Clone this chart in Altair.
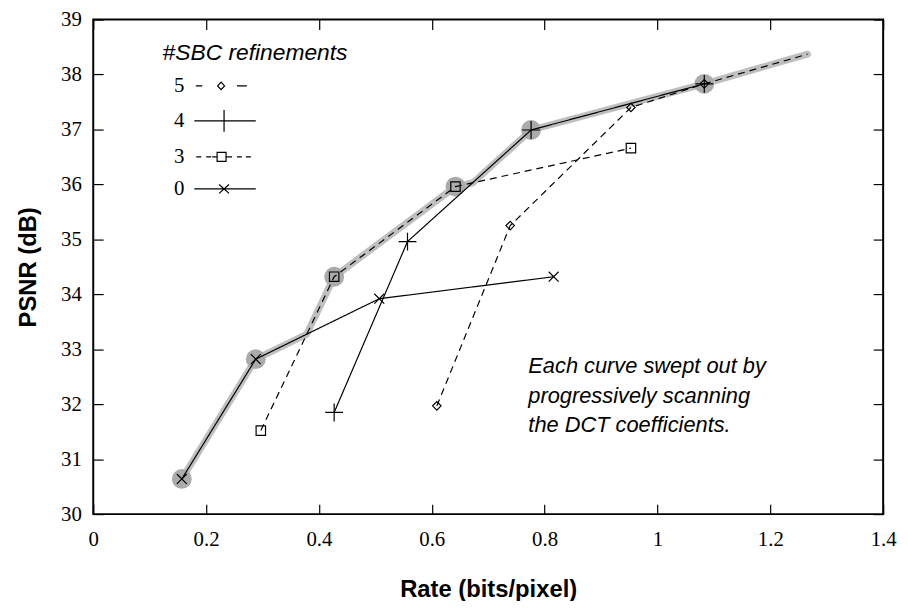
import altair as alt
import pandas as pd

# ---------------- data ----------------
series_order = ["5", "4", "3", "0"]

s5_x = [0.609, 0.739, 0.953, 1.083, 1.266]
s5_y = [31.97, 35.25, 37.40, 37.83, 38.37]
s5_marked = [True, True, True, True, False]

s4_x = [0.427, 0.557, 0.776, 1.083]
s4_y = [31.85, 34.96, 36.99, 37.83]
s4_marked = [True, True, True, True]

s3_x = [0.297, 0.427, 0.642, 0.953]
s3_y = [31.52, 34.32, 35.96, 36.66]
s3_marked = [True, True, True, True]

s0_x = [0.157, 0.288, 0.507, 0.816]
s0_y = [30.64, 32.82, 33.92, 34.32]
s0_marked = [True, True, True, True]

# upper envelope (gray highlight) and its highlighted points
env_x = [0.157, 0.288, 0.378, 0.427, 0.642, 0.673, 0.776, 1.083, 1.266]
env_y = [30.64, 32.82, 33.27, 34.32, 35.96, 36.03, 36.99, 37.83, 38.37]
env_dot = [True, True, False, True, True, False, True, True, False]

x_ticks = [0, 0.2, 0.4, 0.6, 0.8, 1.0, 1.2, 1.4]
y_ticks = [30, 31, 32, 33, 34, 35, 36, 37, 38, 39]

legend_title = "#SBC refinements"
note_text = "Each curve swept out by\nprogressively scanning\nthe DCT coefficients."
x_title = "Rate (bits/pixel)"
y_title = "PSNR (dB)"

# ---------------- tables ----------------
rows = []
for name, xs, ys, ms in [("5", s5_x, s5_y, s5_marked), ("4", s4_x, s4_y, s4_marked),
                         ("3", s3_x, s3_y, s3_marked), ("0", s0_x, s0_y, s0_marked)]:
    for i, (a, b, m) in enumerate(zip(xs, ys, ms)):
        rows.append({"series": name, "rate": a, "psnr": b, "order": i, "marked": m})
df = pd.DataFrame(rows)
env_df = pd.DataFrame({"rate": env_x, "psnr": env_y, "order": list(range(len(env_x))), "dot": env_dot})

# ---------------- styles ----------------
marker_paths = [
    "M0,-0.85L0.85,0L0,0.85L-0.85,0Z",            # 5 diamond
    "M-1.8,0L1.8,0M0,-1.8L0,1.8",                  # 4 plus
    "M-0.95,-0.95L0.95,-0.95L0.95,0.95L-0.95,0.95Z",  # 3 square
    "M-1,-1L1,1M-1,1L1,-1",                        # 0 cross
]
legend_paths = [
    "M-2.85,0L-2.2,0M-0.65,0L-0.3,-0.38L0.05,0L-0.3,0.38Z M1.3,0L2.3,0",
    "M-3,0L3.2,0M0,-1.1L0,1.1",
    "M-2.8,0L-2.3,0M-1.8,0L-1.3,0M-1.2,0L-0.7,0M-0.7,-0.45L0.2,-0.45L0.2,0.45L-0.7,0.45Z M0.2,0L0.8,0M1.3,0L1.8,0M2.2,0L2.7,0",
    "M-3,0L3.2,0M-0.5,-0.45L0.5,0.45M-0.5,0.45L0.5,-0.45",
]

xscale = alt.Scale(domain=[0, 1.4], nice=False, zero=False)
yscale = alt.Scale(domain=[30, 39], nice=False, zero=False)

TICK = 10
x_main = alt.X("rate:Q", scale=xscale, axis=alt.Axis(
    orient="bottom", values=x_ticks, format="~g", title=x_title, offset=-TICK, tickSize=TICK,
    domain=False, grid=False, labelPadding=14.5, titlePadding=29, labelFlush=False))
y_main = alt.Y("psnr:Q", scale=yscale, axis=alt.Axis(
    orient="left", values=y_ticks, title=y_title, offset=-TICK, tickSize=TICK,
    domain=False, grid=False, labelPadding=12, titlePadding=20, labelFlush=False))
x_plain = alt.X("rate:Q", scale=xscale, axis=None)
y_plain = alt.Y("psnr:Q", scale=yscale, axis=None)

env_line = alt.Chart(env_df).mark_line(color="#bfbfbf", strokeWidth=7, strokeCap="round",
                                       strokeJoin="round").encode(
    x=x_plain, y=y_plain, order="order:Q")
env_dots = alt.Chart(env_df).transform_filter("datum.dot").mark_point(
    shape="circle", filled=True, color="#ababab", opacity=1, size=400).encode(x=x_plain, y=y_plain)

lines = alt.Chart(df).mark_line(color="black", strokeWidth=1.2).encode(
    x=x_plain, y=y_plain, order="order:Q",
    strokeDash=alt.StrokeDash("series:N", scale=alt.Scale(domain=series_order,
                              range=[[7, 5], [1, 0], [7, 5], [1, 0]]), legend=None))

markers = alt.Chart(df).transform_filter("datum.marked").mark_point(
    filled=False, color="black", strokeWidth=1.2, size=100, opacity=1).encode(
    x=x_main, y=y_main,
    shape=alt.Shape("series:N", scale=alt.Scale(domain=series_order, range=marker_paths), legend=None))

legend_layer = alt.Chart(df).transform_filter("false").mark_point(
    filled=False, color="black", strokeWidth=1.2, opacity=1).encode(
    x=x_plain, y=y_plain,
    shape=alt.Shape("series:N", scale=alt.Scale(domain=series_order, range=legend_paths),
                    legend=alt.Legend(
                        title=legend_title, orient="none", legendX=70, legendY=23,
                        padding=0, titleFont="Liberation Sans", titleFontStyle="italic",
                        titleFontWeight="normal", titleFontSize=23, titleColor="black",
                        titleLimit=400, titlePadding=10, labelFont="Liberation Serif",
                        labelFontSize=21, labelColor="black", labelAlign="right",
                        labelOffset={"expr": "-51"}, symbolOffset=51, symbolSize=400,
                        symbolStrokeWidth=1.2, symbolStrokeColor="black",
                        symbolFillColor="transparent", rowPadding=11.3)))

note = alt.Chart(env_df).transform_filter("datum.order == 0").mark_text(
    align="left", baseline="top", font="Liberation Sans", fontStyle="italic",
    fontSize=22, lineHeight=29.5, lineBreak="\n", color="black").encode(
    x=alt.value(439), y=alt.value(340), text=alt.value(note_text))

mirror = alt.Chart(env_df).mark_point(opacity=0).encode(
    x=alt.X("rate:Q", scale=xscale, axis=alt.Axis(
        orient="top", values=x_ticks, labels=False, title=None, offset=-TICK, tickSize=TICK,
        domain=False, grid=False)),
    y=alt.Y("psnr:Q", scale=yscale, axis=alt.Axis(
        orient="right", values=y_ticks, labels=False, title=None, offset=-TICK, tickSize=TICK,
        domain=False, grid=False)))

chart = alt.layer(env_line, env_dots, lines, markers, legend_layer, note, mirror).resolve_axis(
    x="independent", y="independent").resolve_scale(shape="independent").properties(
    width=797, height=499,
    autosize=alt.AutoSizeParams(type="none"),
    padding={"left": 86, "top": 9, "right": 17, "bottom": 85},
    background="white",
).configure_view(stroke="black", strokeWidth=2).configure_axis(
    labelFont="Liberation Serif", labelFontSize=21, labelColor="black",
    tickColor="black", tickWidth=1.2,
    titleFont="Liberation Sans", titleFontWeight="bold", titleFontSize=24, titleColor="black")

chart.save("out.html", embed_options={"renderer": "svg", "actions": False})
